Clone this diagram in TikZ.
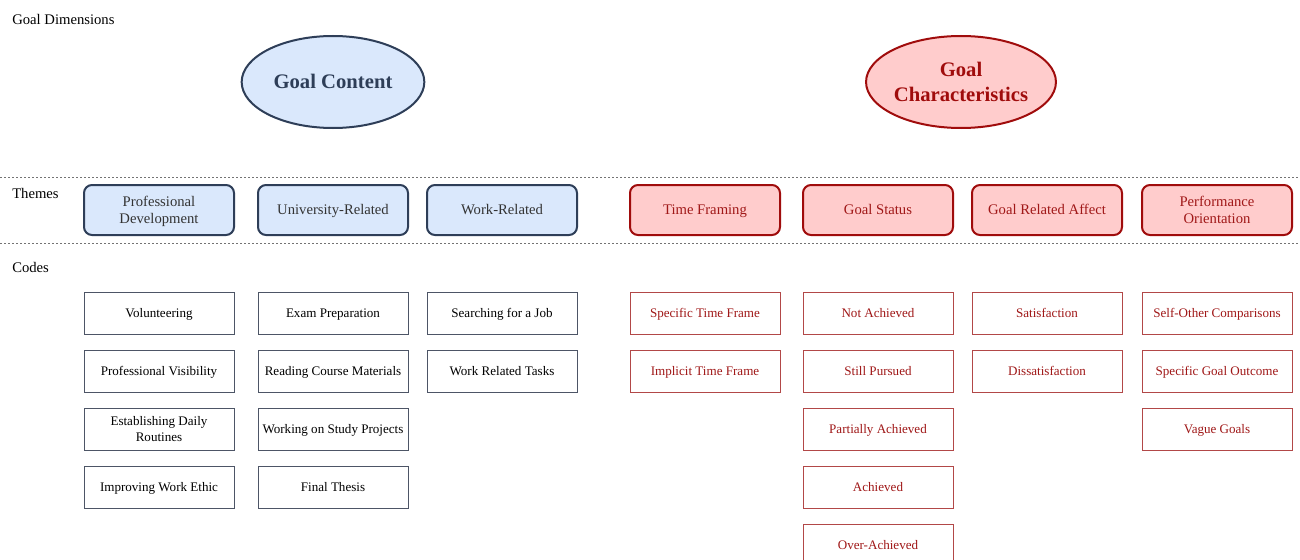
\documentclass[tikz,border=0pt]{standalone}
\usepackage{fontspec}
\setmainfont{Liberation Serif}
\usetikzlibrary{shapes.geometric}
\definecolor{bfill}{HTML}{DAE8FC}
\definecolor{bdraw}{HTML}{2E3E58}
\definecolor{rfill}{HTML}{FFCCCC}
\definecolor{rdraw}{HTML}{A00C0C}
\definecolor{rtext}{HTML}{A01818}
\definecolor{rcode}{HTML}{B24848}
\definecolor{gcode}{HTML}{4D5566}
\tikzset{
  px/.style={x=0.75pt,y=-0.75pt},
  lbl/.style={anchor=west,font=\fontsize{11pt}{13pt}\selectfont,inner sep=0pt},
  ell/.style={ellipse,minimum width=137pt,minimum height=69pt,line width=1.5pt,align=center,font=\fontsize{15.5pt}{18.75pt}\selectfont\bfseries,inner sep=0pt,text height=15.8pt,text depth=5.6pt},
  ell2/.style={text height=34.55pt},
  bell/.style={ell,fill=bfill,draw=bdraw,text=bdraw},
  rell/.style={ell,fill=rfill,draw=rdraw,text=rdraw},
  theme/.style={rectangle,rounded corners=6pt,minimum width=112.5pt,minimum height=37.5pt,line width=1.5pt,align=center,inner sep=0pt,font=\fontsize{11pt}{12.75pt}\selectfont,text height=11.1pt,text depth=3.8pt},
  theme2/.style={text height=23.85pt},
  btheme/.style={theme,fill=bfill,draw=bdraw,text=black!80},
  rtheme/.style={theme,fill=rfill,draw=rdraw,text=rtext},
  code/.style={rectangle,minimum width=112.5pt,minimum height=31.5pt,line width=0.7pt,align=center,inner sep=0pt,font=\fontsize{9.8pt}{12pt}\selectfont,text height=10.1pt,text depth=3.6pt},
  code2/.style={text height=22.1pt},
  bcode/.style={code,draw=gcode,text=black},
  rcodest/.style={code,draw=rcode,text=rtext},
  sep/.style={draw=black!55,line width=0.5pt,dash pattern=on 1.5pt off 1.5pt}
}
\begin{document}
\begin{tikzpicture}[px]
\useasboundingbox (0,0) rectangle (1300,560);
\fill[white] (0,0) rectangle (1300,560);
\node[lbl] (gd) at (12,19) {Goal Dimensions};
\node[bell] (gc) at (333,82) {Goal Content};
\node[rell,ell2] (gch) at (961,82) {Goal\\Characteristics};
\coordinate (l1a) at (0,177); \coordinate (l1b) at (1300,177);
\coordinate (l2a) at (0,243); \coordinate (l2b) at (1300,243);
\draw[sep] (l1a) -- (l1b);
\draw[sep] (l2a) -- (l2b);
\node[lbl] (th) at (12,193) {Themes};
\node[lbl] (cd) at (12,267) {Codes};
% themes
\node[btheme,theme2] (t1) at (159,210) {Professional\\Development};
\node[btheme] (t2) at (333,210) {University-Related};
\node[btheme] (t3) at (502,210) {Work-Related};
\node[rtheme] (t4) at (705,210) {Time Framing};
\node[rtheme] (t5) at (878,210) {Goal Status};
\node[rtheme] (t6) at (1047,210) {Goal Related Affect};
\node[rtheme,theme2] (t7) at (1217,210) {Performance\\Orientation};
% codes column 1
\node[bcode] (c11) at (159,313) {Volunteering};
\node[bcode] (c12) at (159,371) {Professional Visibility};
\node[bcode,code2] (c13) at (159,429) {Establishing Daily\\Routines};
\node[bcode] (c14) at (159,487) {Improving Work Ethic};
% column 2
\node[bcode] (c21) at (333,313) {Exam Preparation};
\node[bcode] (c22) at (333,371) {Reading Course Materials};
\node[bcode] (c23) at (333,429) {Working on Study Projects};
\node[bcode] (c24) at (333,487) {Final Thesis};
% column 3
\node[bcode] (c31) at (502,313) {Searching for a Job};
\node[bcode] (c32) at (502,371) {Work Related Tasks};
% column 4
\node[rcodest] (c41) at (705,313) {Specific Time Frame};
\node[rcodest] (c42) at (705,371) {Implicit Time Frame};
% column 5
\node[rcodest] (c51) at (878,313) {Not Achieved};
\node[rcodest] (c52) at (878,371) {Still Pursued};
\node[rcodest] (c53) at (878,429) {Partially Achieved};
\node[rcodest] (c54) at (878,487) {Achieved};
\node[rcodest] (c55) at (878,545) {Over-Achieved};
% column 6
\node[rcodest] (c61) at (1047,313) {Satisfaction};
\node[rcodest] (c62) at (1047,371) {Dissatisfaction};
% column 7
\node[rcodest] (c71) at (1217,313) {Self-Other Comparisons};
\node[rcodest] (c72) at (1217,371) {Specific Goal Outcome};
\node[rcodest] (c73) at (1217,429) {Vague Goals};
\end{tikzpicture}
\end{document}
